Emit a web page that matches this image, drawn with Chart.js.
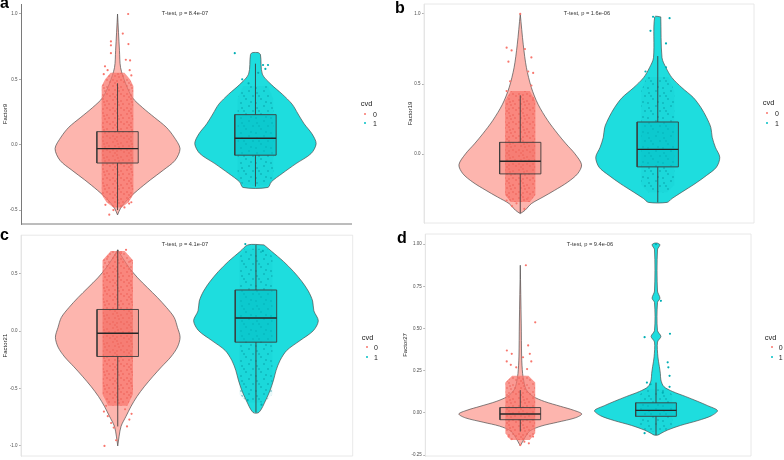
<!DOCTYPE html>
<html>
<head>
<meta charset="utf-8">
<script src="https://cdn.jsdelivr.net/npm/chart.js@4.4.1/dist/chart.umd.min.js"></script>
<style>
  html, body { margin: 0; padding: 0; background: #fff; }
  #wrap { position: relative; width: 784px; height: 460px; overflow: hidden; font-family: "Liberation Sans", Arial, sans-serif; }
  .panel { position: absolute; }
  .txt { position: absolute; white-space: nowrap; color: #222; }
  .dot { position: absolute; width: 2.4px; height: 2.4px; border-radius: 50%; }
</style>
</head>
<body>
<div id="wrap"></div>
<script>
// data
const groups = ['0', '1'];
const groupVar = 'cvd';
const letters = ['a', 'b', 'c', 'd'];
const factors = ['Factor9', 'Factor19', 'Factor21', 'Factor27'];
const pTexts = ['T-test, p = 8.4e-07', 'T-test, p = 1.6e-06', 'T-test, p = 4.1e-07', 'T-test, p = 9.4e-06'];
const yTicks = [[1.0, 0.5, 0.0, -0.5], [1.0, 0.5, 0.0], [0.5, 0.0, -0.5, -1.0], [1.0, 0.75, 0.5, 0.25, 0.0, -0.25]];
const tickDigits = [1, 1, 1, 2];
const yLimits = [[-0.6065, 1.0765], [-0.49, 1.071], [-1.0875, 0.8375], [-0.255, 1.06]];

// box stats per group: [lower whisker, q1, median, q3, upper whisker]
const box9 = [[-0.5, -0.14, -0.03, 0.10, 0.47], [-0.32, -0.08, 0.05, 0.23, 0.62]];
const box19 = [[-0.42, -0.14, -0.05, 0.085, 0.42], [-0.343, -0.09, 0.035, 0.23, 0.70]];
const box21 = [[-0.83, -0.22, -0.017, 0.19, 0.71], [-0.707, -0.095, 0.115, 0.36, 0.753]];
const box27 = [[-0.11, -0.04, -0.006, 0.032, 0.135], [-0.131, -0.02, 0.015, 0.06, 0.18]];

// violin outlines, top to bottom: [value, half width]
const vio9 = [
  [[1.0, 0], [0.72, 0.014], [0.59, 0.022], [0.47, 0.058], [0.36, 0.108], [0.285, 0.18], [0.21, 0.266], [0.134, 0.353], [0.058, 0.41], [-0.03, 0.453], [-0.12, 0.417], [-0.195, 0.331], [-0.27, 0.237], [-0.35, 0.144], [-0.42, 0.072], [-0.486, 0.022], [-0.537, 0]],
  [[0.705, 0.02], [0.69, 0.036], [0.54, 0.05], [0.46, 0.115], [0.387, 0.194], [0.31, 0.266], [0.235, 0.309], [0.16, 0.353], [0.083, 0.41], [0.008, 0.44], [-0.068, 0.403], [-0.144, 0.295], [-0.22, 0.194], [-0.284, 0.115], [-0.327, 0.09]]
];
const vio19 = [
  [[1.0, 0], [0.78, 0.022], [0.617, 0.045], [0.475, 0.081], [0.357, 0.129], [0.239, 0.201], [0.145, 0.273], [0.074, 0.333], [0.003, 0.398], [-0.075, 0.446], [-0.139, 0.417], [-0.199, 0.345], [-0.257, 0.25], [-0.305, 0.165], [-0.352, 0.081], [-0.4, 0.034], [-0.423, 0]],
  [[0.979, 0.022], [0.688, 0.031], [0.617, 0.06], [0.546, 0.103], [0.475, 0.175], [0.404, 0.259], [0.333, 0.314], [0.262, 0.355], [0.191, 0.386], [0.121, 0.396], [0.05, 0.419], [-0.021, 0.451], [-0.092, 0.427], [-0.151, 0.355], [-0.21, 0.271], [-0.27, 0.175], [-0.316, 0.103], [-0.343, 0.068]]
];
const vio21 = [
  [[0.71, 0], [0.638, 0.036], [0.552, 0.084], [0.466, 0.144], [0.379, 0.216], [0.293, 0.288], [0.207, 0.353], [0.121, 0.408], [0.034, 0.432], [-0.052, 0.451], [-0.138, 0.432], [-0.224, 0.384], [-0.31, 0.317], [-0.397, 0.252], [-0.483, 0.192], [-0.569, 0.139], [-0.655, 0.096], [-0.741, 0.06], [-0.828, 0.024], [-0.914, 0.01], [-1.0, 0]],
  [[0.753, 0.058], [0.695, 0.115], [0.609, 0.199], [0.522, 0.271], [0.436, 0.331], [0.35, 0.379], [0.264, 0.41], [0.178, 0.419], [0.091, 0.451], [0.005, 0.415], [-0.081, 0.319], [-0.167, 0.223], [-0.253, 0.175], [-0.34, 0.146], [-0.426, 0.127], [-0.512, 0.103], [-0.598, 0.072], [-0.707, 0.022]]
];
const vio27 = [
  [[0.875, 0], [0.527, 0.007], [0.332, 0.01], [0.234, 0.017], [0.176, 0.029], [0.137, 0.045], [0.098, 0.094], [0.068, 0.178], [0.039, 0.297], [0.016, 0.393], [-0.006, 0.453], [-0.029, 0.405], [-0.055, 0.273], [-0.078, 0.153], [-0.107, 0.07], [-0.146, 0.034], [-0.195, 0]],
  [[1.006, 0.01], [0.996, 0.029], [0.967, 0.011], [0.722, 0.011], [0.68, 0.029], [0.654, 0.011], [0.488, 0.011], [0.453, 0.036], [0.42, 0.011], [0.332, 0.014], [0.274, 0.025], [0.234, 0.032], [0.195, 0.036], [0.156, 0.058], [0.127, 0.122], [0.098, 0.216], [0.068, 0.309], [0.043, 0.381], [0.014, 0.453], [-0.016, 0.41], [-0.045, 0.309], [-0.074, 0.18], [-0.101, 0.086], [-0.121, 0.036], [-0.131, 0.014]]
];

// dense part of the jittered points: [value, half width]
const core9 = [
  [[0.55, 0.05], [0.5, 0.09], [0.45, 0.115], [-0.38, 0.115], [-0.44, 0.08], [-0.48, 0.03]],
  [[0.45, 0.09], [0.35, 0.13], [-0.28, 0.13], [-0.31, 0.08]]
];
const core19 = [
  [[0.45, 0.07], [0.38, 0.11], [-0.29, 0.11], [-0.34, 0.07]],
  [[0.55, 0.08], [0.45, 0.12], [-0.22, 0.12], [-0.27, 0.07]]
];
const core21 = [
  [[0.70, 0.05], [0.62, 0.11], [-0.55, 0.11], [-0.65, 0.07]],
  [[0.72, 0.08], [0.65, 0.12], [-0.55, 0.12], [-0.62, 0.06]]
];
const core27 = [
  [[0.22, 0.06], [0.18, 0.11], [-0.12, 0.11], [-0.16, 0.07]],
  [[0.14, 0.08], [0.11, 0.12], [-0.08, 0.12], [-0.11, 0.07]]
];

// scattered points outside the dense part: [jitter offset, value]
const pts9 = [
  [[0.077, 1.0], [0.038, 0.85], [-0.048, 0.79], [0.079, 0.77], [-0.048, 0.76], [-0.048, 0.70], [0.06, 0.65], [0.091, 0.645], [-0.091, 0.60], [-0.072, 0.57], [0.088, 0.57], [-0.1, 0.54], [0.1, 0.53], [-0.06, -0.535], [-0.088, -0.46], [0.079, -0.42], [0.084, -0.45], [-0.077, -0.41], [0.05, -0.48], [-0.03, -0.5], [0.1, -0.44]],
  [[-0.15, 0.70], [0.055, 0.61], [0.091, 0.61], [0.072, 0.58], [-0.096, 0.50], [0.02, 0.55], [-0.05, 0.47]]
];
const pts19 = [
  [[0, 1.0], [-0.099, 0.76], [-0.063, 0.74], [0.034, 0.75], [0.081, 0.69], [-0.086, 0.66], [0.058, 0.59], [0.094, 0.58], [-0.074, 0.52], [0.081, 0.49], [-0.099, 0.45], [0.094, 0.40], [-0.099, -0.33], [-0.027, -0.35], [0.058, -0.31], [-0.06, -0.37], [0.03, -0.39]],
  [[-0.034, 0.98], [0.086, 0.97], [-0.053, 0.88], [0.06, 0.79], [-0.089, 0.59], [0.06, 0.62]]
];
const pts21 = [
  [[0.06, 0.71], [0.024, 0.68], [-0.072, 0.65], [0.091, 0.61], [-0.096, -1.0], [-0.072, -0.74], [-0.048, -0.80], [0.084, -0.77], [0.053, -0.68], [-0.084, -0.65], [0.067, -0.83], [-0.029, -0.84], [-0.012, -0.95], [-0.1, -0.70], [0.1, -0.72]],
  [[-0.077, 0.76], [0.05, 0.70], [-0.06, -0.60], [0.04, -0.64]]
];
const pts27 = [
  [[0.041, 0.875], [0.11, 0.537], [0.058, 0.40], [-0.099, 0.37], [-0.063, 0.35], [0.07, 0.35], [-0.1, 0.305], [-0.07, 0.285], [0.081, 0.305], [0.02, 0.33], [-0.03, 0.27], [0.05, 0.26], [0, -0.19], [-0.063, -0.155], [0.063, -0.18], [-0.086, -0.14], [0.094, -0.14], [0.03, -0.17]],
  [[0, 1.0], [-0.084, 0.449], [0.103, 0.469], [0.036, 0.664], [0.086, 0.30], [0.091, 0.27], [0.1, 0.22], [0.1, 0.155], [-0.067, 0.18], [-0.084, -0.12], [-0.04, 0.17], [0.05, 0.12]]
];

const violins = [vio9, vio19, vio21, vio27];
const cores = [core9, core19, core21, core27];
const points = [pts9, pts19, pts21, pts27];
const boxes = [box9, box19, box21, box27];

// speckled fill standing in for the dense jittered points (texture only)
function speckle(size, base, dotColor, dots, r) {
  const c = document.createElement('canvas');
  c.width = size;
  c.height = size;
  const g = c.getContext('2d');
  if (base) { g.fillStyle = base; g.fillRect(0, 0, size, size); }
  g.fillStyle = dotColor;
  dots.forEach(d => { g.beginPath(); g.arc(d[0], d[1], r, 0, Math.PI * 2); g.fill(); });
  return g.createPattern(c, 'repeat');
}
const texture0 = [[1, 2], [5, 1], [9, 3], [3, 6], [7, 7], [11, 6], [1, 10], [5, 11], [9, 10], [12, 12], [6, 4], [3, 13]];
const texture1 = [[2, 3], [9, 1], [13, 6], [6, 9], [1, 13], [11, 12], [4, 6]];

// colours
const vioFill = ['#FDB5AE', '#1EDDDE'];
const ptColor = ['#F8766D', '#00AEB4'];
const boxFill = ['rgba(240,105,95,0.3)', 'rgba(0,190,196,0.55)'];
const legColor = ['#F8766D', '#00BFC4'];

// placement of the four panels on the page
const layout = [
  { left: 0, top: 0, w: 392, h: 228, axisW: 21, pad: { left: 0, right: 40, top: 2.5, bottom: 3.8 }, titlePad: 1.4, full: false,
    letter: [0, 8.5], ptext: [185, 15.5], leg: [360.7, 106, 365, 114, 123.3, 373, 116.7, 126] },
  { left: 392, top: 0, w: 392, h: 228, axisW: 32, pad: { left: 0, right: 30, top: 3, bottom: 5 }, titlePad: 14.4, full: true,
    letter: [395, 13.3], ptext: [587, 15.5], leg: [762.7, 105.7, 766.7, 113.3, 122.7, 775, 115.7, 125.7] },
  { left: 0, top: 228, w: 392, h: 232, axisW: 21, pad: { left: 0, right: 39.3, top: 7.2, bottom: 1.5 }, titlePad: 1.4, full: true,
    letter: [0, 241], ptext: [185, 247], leg: [361.7, 340, 366.7, 347.3, 357, 374, 350, 360] },
  { left: 392, top: 228, w: 392, h: 232, axisW: 33.3, pad: { left: 0, right: 33, top: 6, bottom: 1.5 }, titlePad: 10.2, full: true,
    letter: [397, 244], ptext: [590, 246.5], leg: [764.7, 340, 772, 347, 356.7, 778.7, 350.3, 360] }
];

Chart.defaults.font.family = '"Liberation Sans", Arial, sans-serif';
const wrap = document.getElementById('wrap');

const coreFill = [
  speckle(14, 'rgba(248,118,108,0.74)', 'rgba(234,92,82,0.9)', texture0, 0.8),
  speckle(15, 'rgba(0,170,176,0.08)', 'rgba(0,140,150,0.8)', texture1, 0.75)
];

function addText(x, base, str, size, extra) {
  const d = document.createElement('div');
  d.className = 'txt';
  d.textContent = str;
  d.style.fontSize = size + 'px';
  d.style.lineHeight = size + 'px';
  d.style.left = x + 'px';
  d.style.top = (base - size * 0.85) + 'px';
  Object.assign(d.style, extra || {});
  wrap.appendChild(d);
}

function addDot(x, y, color) {
  const d = document.createElement('div');
  d.className = 'dot';
  d.style.left = (x - 1.2) + 'px';
  d.style.top = (y - 1.2) + 'px';
  d.style.background = color;
  wrap.appendChild(d);
}

function outline(prof, cx) {
  const right = prof.map(p => ({ x: cx + p[1], y: p[0] }));
  const left = prof.slice().reverse().map(p => ({ x: cx - p[1], y: p[0] }));
  return right.concat(left, [right[0]]);
}

function polygon(pts, fillColor, lineColor, lineW, tension, order) {
  return {
    data: pts, showLine: true, fill: 'shape', backgroundColor: fillColor,
    borderColor: lineColor, borderWidth: lineW, pointRadius: 0, tension: tension, order: order
  };
}

// axis line / panel border
const framePlugin = {
  id: 'frame',
  afterDatasetsDraw(chart, args, opts) {
    const { ctx, chartArea: a } = chart;
    ctx.save();
    ctx.strokeStyle = opts.color;
    ctx.lineWidth = opts.width;
    ctx.beginPath();
    if (opts.full) {
      ctx.rect(a.left, a.top, a.right - a.left, a.bottom - a.top);
    } else {
      ctx.moveTo(a.left, a.bottom);
      ctx.lineTo(a.right, a.bottom);
    }
    ctx.stroke();
    ctx.restore();
  }
};

const bw = 0.15;

layout.forEach((L, i) => {
  const div = document.createElement('div');
  div.className = 'panel';
  div.style.left = L.left + 'px';
  div.style.top = L.top + 'px';
  const cv = document.createElement('canvas');
  cv.width = L.w;
  cv.height = L.h;
  cv.style.width = L.w + 'px';
  cv.style.height = L.h + 'px';
  div.appendChild(cv);
  wrap.appendChild(div);

  const ds = [];
  for (let g = 0; g < groups.length; g++) {
    const cx = g + 1;
    const b = boxes[i][g];
    ds.push(polygon(outline(violins[i][g], cx), vioFill[g], '#4d4d4d', 0.7, 0.3, 5));
    ds.push(polygon(outline(cores[i][g], cx), coreFill[g], 'rgba(0,0,0,0)', 0, 0, 4));
    ds.push({ data: points[i][g].map(p => ({ x: cx + p[0], y: p[1] })), pointRadius: 1.1, pointBackgroundColor: ptColor[g], pointBorderWidth: 0, order: 3 });
    ds.push(polygon([{ x: cx - bw, y: b[1] }, { x: cx + bw, y: b[1] }, { x: cx + bw, y: b[3] }, { x: cx - bw, y: b[3] }, { x: cx - bw, y: b[1] }],
      boxFill[g], '#3d3d3d', 0.9, 0, 2));
    ds.push({ data: [{ x: cx, y: b[0] }, { x: cx, y: b[1] }, { x: cx, y: null }, { x: cx, y: b[3] }, { x: cx, y: b[4] }],
      showLine: true, spanGaps: false, borderColor: '#3d3d3d', borderWidth: 0.9, pointRadius: 0, fill: false, order: 1 });
    ds.push({ data: [{ x: cx - bw, y: b[2] }, { x: cx + bw, y: b[2] }],
      showLine: true, borderColor: '#262626', borderWidth: 1.4, pointRadius: 0, fill: false, order: 0 });
  }

  const lineCol = L.full ? '#e2e2e2' : '#7a7a7a';

  new Chart(cv.getContext('2d'), {
    type: 'scatter',
    data: { datasets: ds },
    options: {
      responsive: false,
      animation: false,
      events: [],
      layout: { padding: L.pad },
      plugins: {
        legend: { display: false },
        tooltip: { enabled: false },
        frame: { full: L.full, color: lineCol, width: L.full ? 0.8 : 1 }
      },
      scales: {
        x: { type: 'linear', min: 0.3, max: 2.7, display: false },
        y: {
          type: 'linear',
          min: yLimits[i][0],
          max: yLimits[i][1],
          afterBuildTicks: s => { s.ticks = yTicks[i].map(v => ({ value: v })); },
          afterFit: s => { s.width = L.axisW; s.paddingTop = 0; s.paddingBottom = 0; },
          ticks: {
            font: { size: 4.5 },
            color: '#4d4d4d',
            padding: 1.5,
            callback: v => v.toFixed(tickDigits[i])
          },
          grid: { drawOnChartArea: false, drawTicks: true, tickLength: 2, color: '#777', lineWidth: 0.6 },
          border: { display: true, color: lineCol, width: L.full ? 0.8 : 1 },
          title: { display: true, text: factors[i], font: { size: 6 }, color: '#222', padding: { top: L.titlePad, bottom: 0 } }
        }
      }
    },
    plugins: [framePlugin]
  });

  // panel letter, test label and legend
  addText(L.letter[0], L.letter[1], letters[i], 16, { fontWeight: 'bold', color: '#000' });
  addText(L.ptext[0], L.ptext[1], pTexts[i], 5.7, { transform: 'translateX(-50%)', color: '#333' });
  const lg = L.leg;
  addText(lg[0], lg[1], groupVar, 7.5);
  addDot(lg[2], lg[3], legColor[0]);
  addDot(lg[2], lg[4], legColor[1]);
  addText(lg[5], lg[6], groups[0], 7);
  addText(lg[5], lg[7], groups[1], 7);
});
</script>
</body>
</html>
